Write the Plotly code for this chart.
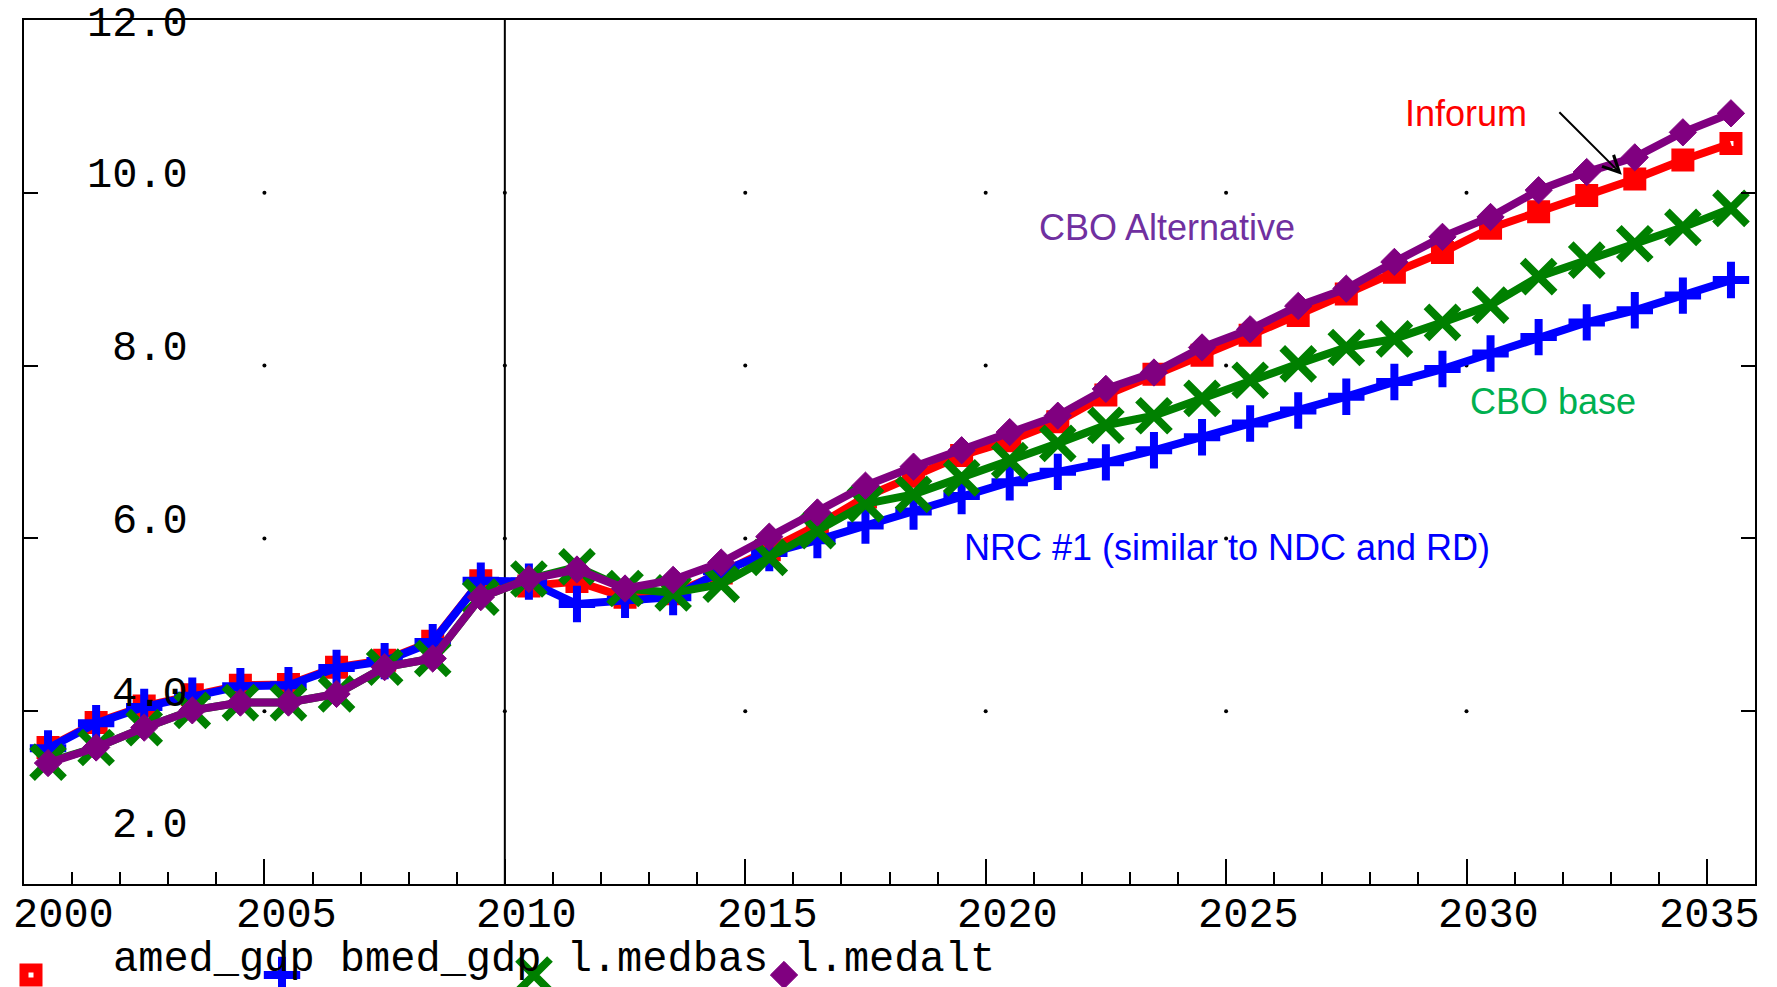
import plotly.graph_objects as go

# ---------------- data ----------------
years = [2000, 2001, 2002, 2003, 2004, 2005, 2006, 2007, 2008, 2009,
         2010, 2011, 2012, 2013, 2014, 2015, 2016, 2017, 2018, 2019,
         2020, 2021, 2022, 2023, 2024, 2025, 2026, 2027, 2028, 2029,
         2030, 2031, 2032, 2033, 2034, 2035]

amed_gdp = [3.58, 3.87, 4.06, 4.19, 4.30, 4.31, 4.51, 4.59, 4.81, 5.51,
            5.45, 5.50, 5.32, 5.36, 5.60, 5.87, 6.15, 6.48, 6.72, 6.96,
            7.13, 7.35, 7.66, 7.90, 8.12, 8.35, 8.58, 8.83, 9.08, 9.31,
            9.59, 9.78, 9.97, 10.16, 10.38, 10.57]

bmed_gdp = [3.57, 3.86, 4.05, 4.18, 4.29, 4.30, 4.50, 4.58, 4.80, 5.51,
            5.50, 5.24, 5.29, 5.32, 5.62, 5.83, 5.98, 6.15, 6.31, 6.49,
            6.65, 6.77, 6.88, 7.02, 7.17, 7.33, 7.48, 7.64, 7.81, 7.96,
            8.14, 8.33, 8.50, 8.64, 8.81, 8.99]

l_medbas = [3.41, 3.58, 3.81, 4.01, 4.10, 4.10, 4.20, 4.51, 4.61, 5.32,
            5.53, 5.67, 5.42, 5.37, 5.47, 5.78, 6.09, 6.40, 6.51, 6.70,
            6.90, 7.10, 7.31, 7.42, 7.62, 7.83, 8.02, 8.21, 8.31, 8.50,
            8.70, 9.03, 9.22, 9.41, 9.60, 9.82]

l_medalt = [3.40, 3.58, 3.81, 4.01, 4.10, 4.10, 4.20, 4.51, 4.61, 5.32,
            5.53, 5.64, 5.42, 5.52, 5.72, 6.02, 6.30, 6.61, 6.83, 7.02,
            7.23, 7.42, 7.73, 7.92, 8.21, 8.42, 8.69, 8.89, 9.20, 9.49,
            9.72, 10.03, 10.24, 10.41, 10.70, 10.92]

series_names = ["amed_gdp", "bmed_gdp", "l.medbas", "l.medalt"]
series_values = [amed_gdp, bmed_gdp, l_medbas, l_medalt]

x_tick_vals = [2000, 2005, 2010, 2015, 2020, 2025, 2030, 2035]
x_tick_text = ["2000", "2005", "2010", "2015", "2020", "2025", "2030", "2035"]
y_tick_vals = [2, 4, 6, 8, 10, 12]
y_tick_text = ["2.0", "4.0", "6.0", "8.0", "10.0", "12.0"]

grid_years = [2005, 2010, 2015, 2020, 2025, 2030]
grid_levels = [4, 6, 8, 10]

callout_text = ["Inforum", "CBO Alternative", "CBO base", "NRC #1 (similar to NDC and RD)"]
callout_x = [2029.99, 2023.77, 2031.80, 2025.02]
callout_y = [10.92, 9.60, 7.58, 5.90]

legend_text = "amed_gdp bmed_gdp l.medbas l.medalt"

# ---------------- styling / layout ----------------
W, H = 1777, 987
ML, MR, MT, MB = 24, 22, 20, 0          # paper area reaches the bottom edge
PLOT_BOTTOM = 884                        # pixel row of the x axis
PW, PHP = W - ML - MR, H - MT - MB
X0, X1 = 2000, 2036
Y0, Y1 = 2, 12
y_dom_lo = (H - PLOT_BOTTOM) / PHP

colors = ["#FF0000", "#0000FF", "#008000", "#800080"]
callout_colors = ["#FF0000", "#7030A0", "#00B050", "#0000FF"]
markers = [
    dict(symbol="square-open", size=14, color=colors[0], line=dict(width=9, color=colors[0])),
    dict(symbol="cross-thin", size=26, color=colors[1], line=dict(width=8, color=colors[1])),
    dict(symbol="x-thin", size=32, color=colors[2], line=dict(width=8, color=colors[2])),
    dict(symbol="diamond", size=21, color=colors[3], line=dict(width=1, color=colors[3])),
]
MONO = "Liberation Mono"
SANS = "Liberation Sans"
mono_size = 42
glyph_drop = 2.9   # annotation box centre sits this far below the glyph centre


def paper_x(px):
    return (px - ML) / PW


def paper_y(py):
    return 1 - (py - MT) / PHP


def x_px(v):
    return ML + (v - X0) / (X1 - X0) * PW


def y_px(v):
    return MT + (Y1 - v) / (Y1 - Y0) * (PLOT_BOTTOM - MT)


fig = go.Figure()

# grid dots at tick intersections
gx, gy = [], []
for yr in grid_years:
    for lv in grid_levels:
        gx.append(yr)
        gy.append(lv)
fig.add_trace(go.Scatter(x=gx, y=gy, mode="markers",
                         marker=dict(size=4, color="black"),
                         hoverinfo="skip", showlegend=False))

xs = [y + 0.5 for y in years]   # values plotted at mid-year
for name, vals, col, mk in zip(series_names, series_values, colors, markers):
    fig.add_trace(go.Scatter(x=xs, y=vals, name=name, mode="lines+markers",
                             line=dict(color=col, width=8), marker=mk,
                             showlegend=False))

# legend keys: own (hidden) axes strip under the plot, in pixel units
key_px = [31, 282, 534, 784]
key_py = [975, 975, 975, 975]
for name, mk, kx, ky in zip(series_names, markers, key_px, key_py):
    fig.add_trace(go.Scatter(x=[kx], y=[ky], mode="markers", marker=mk,
                             xaxis="x2", yaxis="y2", cliponaxis=False,
                             hoverinfo="skip", showlegend=False))

annotations = []
# x tick labels
for v, t in zip(x_tick_vals, x_tick_text):
    c = min(max(x_px(v) + 22, 63), 1709)
    annotations.append(dict(x=paper_x(c), y=paper_y(913 + glyph_drop), xref="paper", yref="paper",
                            text=t, showarrow=False, xanchor="center", yanchor="middle",
                            font=dict(family=MONO, size=mono_size, color="black")))
# y tick labels (inside the frame, right-aligned, above their ticks)
for v, t in zip(y_tick_vals, y_tick_text):
    c = min(max(y_px(v) - 19.5, 22.5), 823)
    annotations.append(dict(x=paper_x(190), y=paper_y(c + glyph_drop), xref="paper", yref="paper",
                            text=t, showarrow=False, xanchor="right", yanchor="middle",
                            font=dict(family=MONO, size=mono_size, color="black")))
# legend text
annotations.append(dict(x=paper_x(111), y=paper_y(986), xref="paper", yref="paper",
                        text=legend_text, showarrow=False, xanchor="left", yanchor="bottom",
                        font=dict(family=MONO, size=mono_size, color="black")))
# callouts
for t, cx, cy, col in zip(callout_text, callout_x, callout_y, callout_colors):
    annotations.append(dict(x=cx, y=cy, xref="x", yref="y", text=t, showarrow=False,
                            xanchor="center", yanchor="middle",
                            font=dict(family=SANS, size=36, color=col)))
# arrow to the Inforum line
annotations.append(dict(x=2033.23, y=10.21, ax=2031.90, ay=10.95, xref="x", yref="y",
                        axref="x", ayref="y", text="", showarrow=True,
                        arrowhead=5, arrowsize=1.6, arrowwidth=2, arrowcolor="black"))

fig.update_layout(
    width=W, height=H,
    margin=dict(l=ML, r=MR, t=MT, b=MB, pad=0),
    paper_bgcolor="white", plot_bgcolor="white",
    showlegend=False,
    annotations=annotations,
    shapes=[dict(type="line", xref="x", yref="y", x0=2010, x1=2010, y0=Y0, y1=Y1,
                 line=dict(color="black", width=2), layer="below")],
    xaxis=dict(range=[X0, X1], domain=[0, 1], anchor="y", showgrid=False, zeroline=False,
               showline=True, linecolor="black", linewidth=2, mirror=True,
               ticks="inside", tick0=2000, dtick=5, ticklen=25, tickwidth=1.5,
               tickcolor="black", showticklabels=False,
               minor=dict(ticks="inside", tick0=2000, dtick=1, ticklen=12,
                          tickwidth=1.5, tickcolor="black", showgrid=False)),
    yaxis=dict(range=[Y0, Y1], domain=[y_dom_lo, 1], anchor="x", showgrid=False, zeroline=False,
               showline=True, linecolor="black", linewidth=2, mirror="ticks",
               ticks="inside", tick0=2, dtick=2, ticklen=14, tickwidth=1.5,
               tickcolor="black", showticklabels=False),
    xaxis2=dict(range=[ML, W - MR], domain=[0, 1], anchor="y2", visible=False,
                showgrid=False, zeroline=False),
    yaxis2=dict(range=[H, PLOT_BOTTOM], domain=[0, y_dom_lo * 0.999], anchor="x2",
                visible=False, showgrid=False, zeroline=False),
)

fig.write_html("out.html", config={"displayModeBar": False},
               post_script="document.body.style.margin='0px';")
